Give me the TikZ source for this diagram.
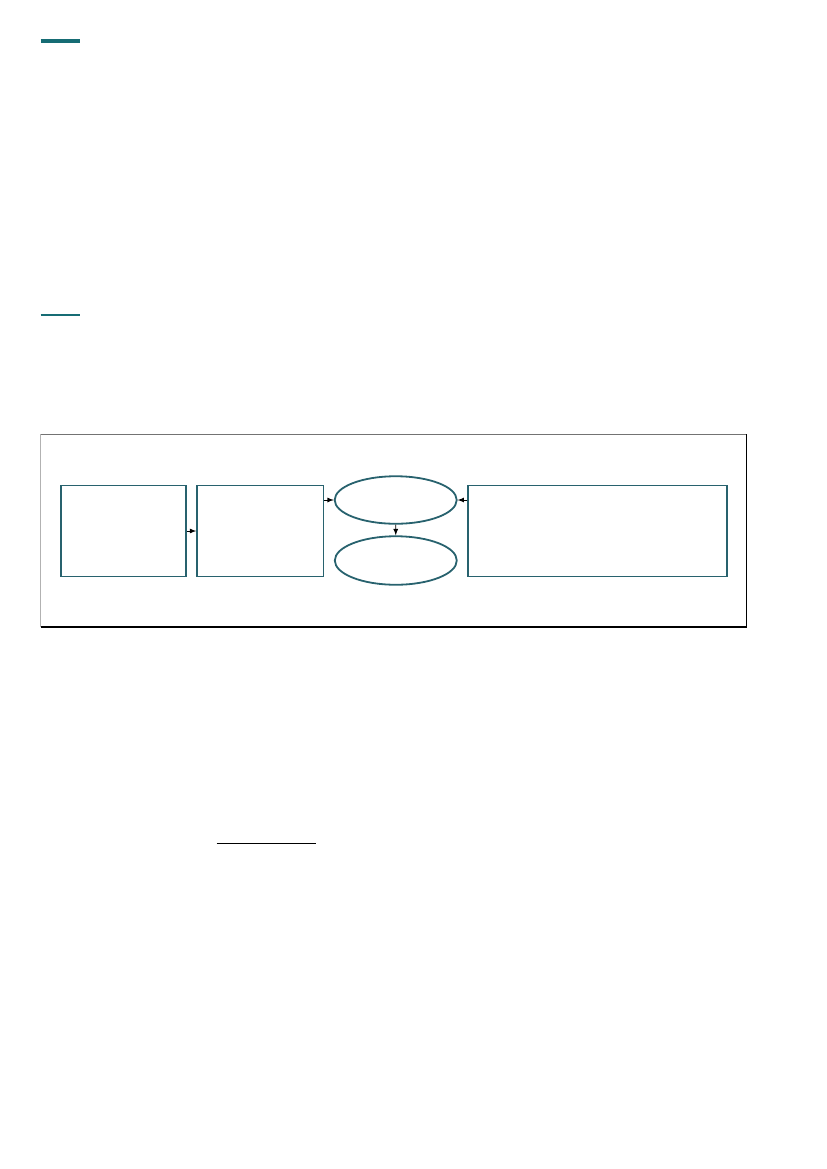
\documentclass[tikz,border=0pt]{standalone}
\usepackage{tikz}
\usetikzlibrary{shapes.geometric,positioning,arrows}

\definecolor{tealbar}{RGB}{22,108,116}
\definecolor{boxline}{RGB}{40,98,110}

\tikzset{
  stagebox/.style={draw=boxline, line width=1.3pt, rectangle, minimum height=91*0.7198pt},
  stageoval/.style={draw=boxline, line width=1.3pt, ellipse, minimum width=122*0.7198pt},
  flow/.style={->, >=latex, line width=0.6pt, black}
}

\begin{document}
\begin{tikzpicture}[x=0.7198pt,y=-0.7198pt]
        \useasboundingbox (0,0) rectangle (827,1169);
        % heading rules
        \draw[tealbar, line width=2.4pt] (40.7,41) -- (80,41);
        \draw[tealbar, line width=1.4pt] (40.7,315) -- (80,315);
        % outer frame
        \draw[gray!60, line width=0.7pt] (40.7,627) -- (40.7,434.3);
        \draw[gray!90!black, line width=0.7pt] (40.7,434.3) -- (746.3,434.3);
        \draw[black, line width=0.8pt] (746.3,434.3) -- (746.3,627) -- (40.7,627);
        % stages
        \node[stagebox, minimum width=125*0.7198pt] (input) at (123.8,531) {};
        \node[stagebox, minimum width=126.3*0.7198pt] (process) at (260.3,531) {};
        \node[stageoval, minimum height=47.5*0.7198pt] (decide) at (395.7,500) {};
        \node[stageoval, minimum height=48.5*0.7198pt] (result) at (395.8,560.5) {};
        \node[stagebox, minimum width=258.5*0.7198pt] (source) at (597.5,531) {};
        \path[flow]
        (input) edge (process)
        (process.east |- decide.west) edge (decide.west)
        (source.west |- decide.east) edge (decide.east)
        (decide) edge (result);
        % underline
        \draw[black, line width=0.8pt] (216.7,843.3) -- (315.7,843.3);
    \end{tikzpicture}
\end{document}
